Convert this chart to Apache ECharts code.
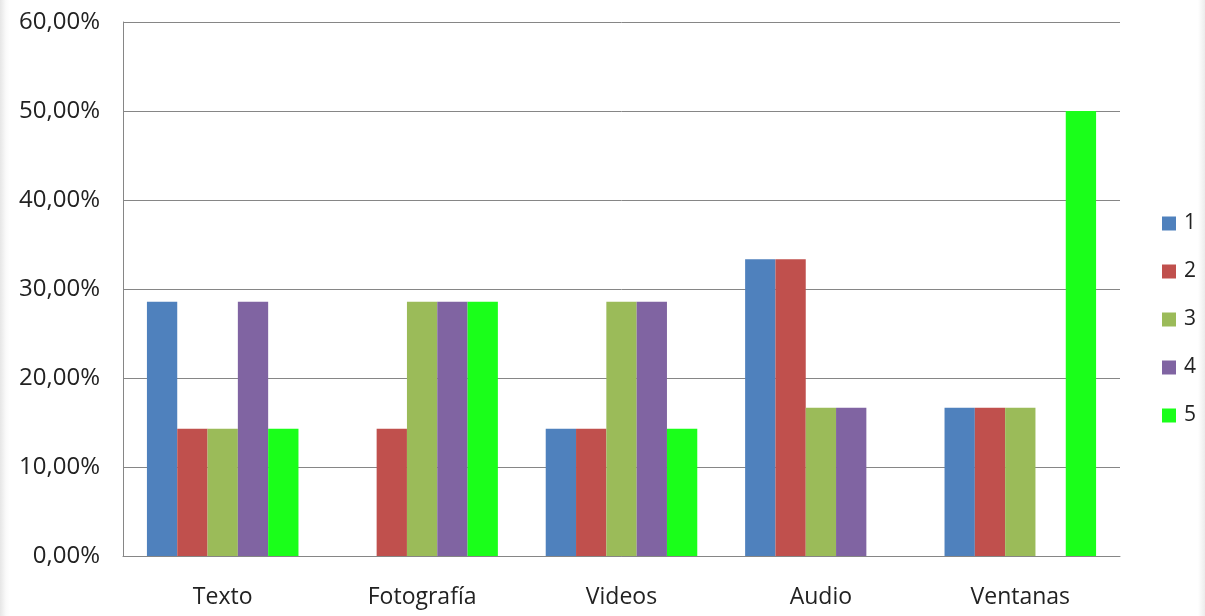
<!DOCTYPE html>
<html>
<head>
<meta charset="utf-8">
<script src="https://cdn.jsdelivr.net/npm/echarts@6/dist/echarts.min.js"></script>
<style>
html,body{margin:0;padding:0;background:#fff;}
#c{width:1205px;height:616px;background:linear-gradient(to right,#e6e6e6 0px,#fafafa 6px,#ffffff 10px,#ffffff 1198px,#ececec 1205px);}
</style>
</head>
<body>
<div id="c"></div>
<script>
const categories = ['Texto', 'Fotografía', 'Videos', 'Audio', 'Ventanas'];
const seriesNames = ['1', '2', '3', '4', '5'];
const s1 = [28.57, 0, 14.29, 33.33, 16.67];
const s2 = [14.29, 14.29, 14.29, 33.33, 16.67];
const s3 = [14.29, 28.57, 28.57, 16.67, 16.67];
const s4 = [28.57, 28.57, 28.57, 16.67, 0];
const s5 = [14.29, 28.57, 14.29, 0, 50];
const yTicks = [0, 10, 20, 30, 40, 50, 60];
const colors = ['#4F81BD', '#C0504D', '#9BBB59', '#8064A2', '#1AFF1A'];

const allData = [s1, s2, s3, s4, s5];
const chart = echarts.init(document.getElementById('c'));
const font = 'Open Sans, Liberation Sans, sans-serif';
chart.setOption({
  animation: false,
  color: colors,
  grid: {left: 123, right: 85, top: 22, bottom: 60, containLabel: false},
  legend: {
    orient: 'vertical',
    left: 1157,
    top: 208,
    itemWidth: 14,
    itemHeight: 14,
    itemGap: 27,
    icon: 'rect',
    data: seriesNames,
    textStyle: {fontSize: 21, color: '#222', fontFamily: font, padding: [0, 0, 0, 3]}
  },
  xAxis: {
    type: 'category',
    data: categories,
    axisLine: {lineStyle: {color: '#868686', width: 1}},
    axisTick: {show: false},
    axisLabel: {fontSize: 23, color: '#222', margin: 30, fontFamily: font}
  },
  yAxis: {
    type: 'value',
    min: yTicks[0],
    max: yTicks[yTicks.length - 1],
    interval: 10,
    axisLine: {show: true, lineStyle: {color: '#868686', width: 1}},
    axisTick: {show: false},
    splitLine: {lineStyle: {color: '#868686', width: 1}},
    axisLabel: {
      fontSize: 24, color: '#222', margin: 23, fontFamily: font,
      formatter: v => v.toFixed(2).replace('.', ',') + '%'
    }
  },
  series: allData.map((d, i) => ({
    name: seriesNames[i],
    type: 'bar',
    data: d,
    barGap: '0%',
    barCategoryGap: '24%'
  }))
});
</script>
</body>
</html>
